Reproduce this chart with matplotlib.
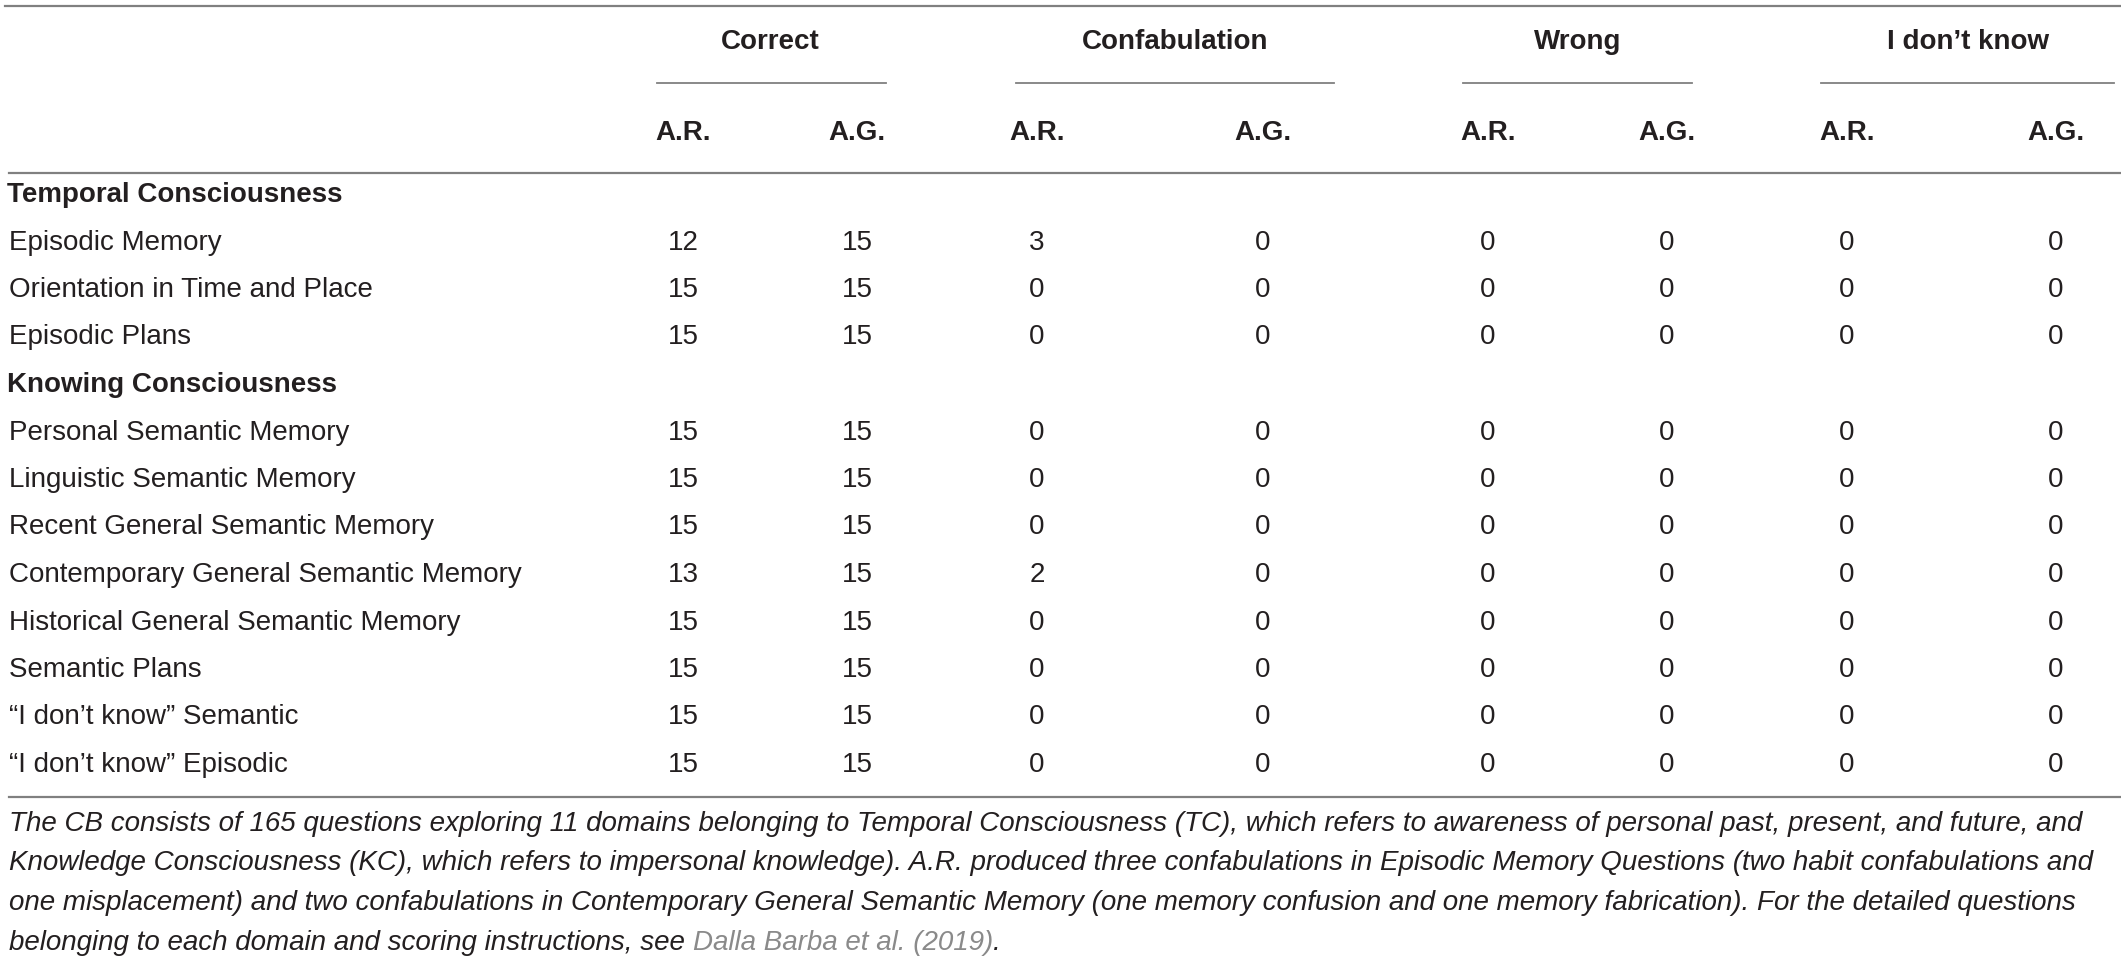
import matplotlib
matplotlib.use("Agg")
import matplotlib.pyplot as plt

# table content
groups = ["Correct", "Confabulation", "Wrong", "I don\u2019t know"]
sub_cols = ["A.R.", "A.G."]
sections = ["Temporal Consciousness", "Knowing Consciousness"]
tc_rows = ["Episodic Memory", "Orientation in Time and Place", "Episodic Plans"]
kc_rows = ["Personal Semantic Memory", "Linguistic Semantic Memory",
           "Recent General Semantic Memory", "Contemporary General Semantic Memory",
           "Historical General Semantic Memory", "Semantic Plans",
           "\u201cI don\u2019t know\u201d Semantic", "\u201cI don\u2019t know\u201d Episodic"]

correct_ar = [12, 15, 15, 15, 15, 15, 13, 15, 15, 15, 15]
correct_ag = [15, 15, 15, 15, 15, 15, 15, 15, 15, 15, 15]
confab_ar = [3, 0, 0, 0, 0, 0, 2, 0, 0, 0, 0]
confab_ag = [0, 0, 0, 0, 0, 0, 0, 0, 0, 0, 0]
wrong_ar = [0, 0, 0, 0, 0, 0, 0, 0, 0, 0, 0]
wrong_ag = [0, 0, 0, 0, 0, 0, 0, 0, 0, 0, 0]
idk_ar = [0, 0, 0, 0, 0, 0, 0, 0, 0, 0, 0]
idk_ag = [0, 0, 0, 0, 0, 0, 0, 0, 0, 0, 0]

footnote_lines = [
    "The CB consists of 165 questions exploring 11 domains belonging to Temporal Consciousness (TC), which refers to awareness of personal past, present, and future, and",
    "Knowledge Consciousness (KC), which refers to impersonal knowledge). A.R. produced three confabulations in Episodic Memory Questions (two habit confabulations and",
    "one misplacement) and two confabulations in Contemporary General Semantic Memory (one memory confusion and one memory fabrication). For the detailed questions",
    "belonging to each domain and scoring instructions, see ",
]
footnote_ref = "Dalla Barba et al. (2019)"

# layout (pixels)
W, H = 2121, 958
col_x = [683, 857, 1037, 1263, 1488, 1667, 1847, 2056]
group_x = [770, 1175, 1578, 1968]
group_span = [(657, 886), (1016, 1334), (1463, 1692), (1821, 2114)]
y_group, y_uline, y_sub, y_rule = 42, 83, 133, 173
y_first, row_step = 195, 47.5
y_bottom = 797
foot_y0, foot_step = 824, 39.5

TXT = "#231f20"
RULE = "#808080"
FONT = ["Liberation Sans", "DejaVu Sans"]
FS = 20

fig = plt.figure(figsize=(W / 100, H / 100), dpi=100)
ax = fig.add_axes([0, 0, 1, 1])
ax.set_xlim(0, W)
ax.set_ylim(H, 0)
ax.axis("off")

# rules
ax.plot([5, W], [6, 6], color=RULE, lw=1.6)
ax.plot([9, W], [y_rule, y_rule], color=RULE, lw=1.6)
ax.plot([9, W], [y_bottom, y_bottom], color=RULE, lw=1.6)
for (x0, x1) in group_span:
    ax.plot([x0, x1], [y_uline, y_uline], color=RULE, lw=1.3)

# headers
for g, gx in zip(groups, group_x):
    ax.text(gx, y_group, g, ha="center", va="center", fontsize=FS,
            fontweight="bold", color=TXT, family=FONT)
for i, cx in enumerate(col_x):
    ax.text(cx, y_sub, sub_cols[i % 2], ha="center", va="center", fontsize=FS,
            fontweight="bold", color=TXT, family=FONT)

# body
columns = [correct_ar, correct_ag, confab_ar, confab_ag,
           wrong_ar, wrong_ag, idk_ar, idk_ag]
body = [(sections[0], None)] + [(r, i) for i, r in enumerate(tc_rows)] \
    + [(sections[1], None)] + [(r, i + len(tc_rows)) for i, r in enumerate(kc_rows)]
for k, (label, idx) in enumerate(body):
    y = y_first + k * row_step
    if idx is None:
        ax.text(7, y, label, ha="left", va="center", fontsize=FS,
                fontweight="bold", color=TXT, family=FONT)
        continue
    ax.text(9, y, label, ha="left", va="center", fontsize=FS, color=TXT, family=FONT)
    for cx, col in zip(col_x, columns):
        ax.text(cx, y, str(col[idx]), ha="center", va="center", fontsize=FS,
                color=TXT, family=FONT)

# footnote
for j, line in enumerate(footnote_lines):
    t = ax.text(9, foot_y0 + j * foot_step, line, ha="left", va="center",
                fontsize=FS, style="italic", color=TXT, family=FONT)
fig.canvas.draw()
bb = t.get_window_extent()
inv = ax.transData.inverted()
x_end = inv.transform((bb.x1, bb.y0))[0]
t2 = ax.text(x_end, foot_y0 + 3 * foot_step, footnote_ref, ha="left", va="center",
             fontsize=FS, style="italic", color="#8a8a8a", family=FONT)
fig.canvas.draw()
bb2 = t2.get_window_extent()
x_end2 = inv.transform((bb2.x1, bb2.y0))[0]
ax.text(x_end2, foot_y0 + 3 * foot_step, ".", ha="left", va="center",
        fontsize=FS, style="italic", color=TXT, family=FONT)

fig.savefig("out.png", dpi=100)
